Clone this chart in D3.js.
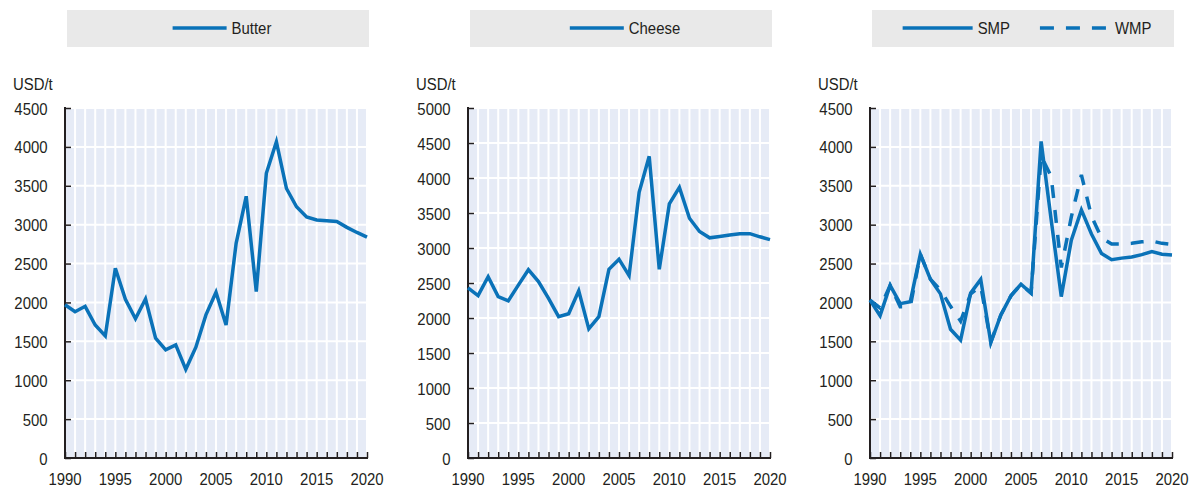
<!DOCTYPE html>
<html>
<head>
<meta charset="utf-8">
<script src="https://cdn.jsdelivr.net/npm/d3@7/dist/d3.min.js"></script>
<style>
  html, body { margin: 0; padding: 0; background: #ffffff; }
  svg { display: block; font-family: "Liberation Sans", Arial, Helvetica, sans-serif; }
</style>
</head>
<body>
<svg id="chart" width="1189" height="488"></svg>
<script>
// Years on the x axis
const years = [1990, 1991, 1992, 1993, 1994, 1995, 1996, 1997, 1998, 1999,
               2000, 2001, 2002, 2003, 2004, 2005, 2006, 2007, 2008, 2009,
               2010, 2011, 2012, 2013, 2014, 2015, 2016, 2017, 2018, 2019, 2020];
const yearTicks = [1990, 1995, 2000, 2005, 2010, 2015, 2020];

// Prices, USD/t
const butter = [1970, 1880, 1950, 1710, 1570, 2440, 2040, 1790, 2045, 1540,
                1390, 1455, 1140, 1425, 1840, 2130, 1710, 2760, 3365, 2140,
                3660, 4065, 3465, 3230, 3100, 3060, 3050, 3040, 2965, 2900, 2840];
const cheese = [2430, 2320, 2590, 2305, 2245, 2470, 2690, 2520, 2280, 2020,
                2060, 2390, 1845, 2020, 2695, 2840, 2605, 3795, 4310, 2695,
                3630, 3865, 3425, 3235, 3145, 3165, 3185, 3205, 3205, 3160, 3120];
const smp = [2030, 1830, 2220, 1985, 2010, 2620, 2300, 2110, 1655, 1515,
             2120, 2295, 1485, 1840, 2085, 2235, 2120, 4070, 3060, 2075,
             2800, 3190, 2880, 2630, 2550, 2570, 2585, 2615, 2655, 2620, 2610];
const wmp = [2030, 1930, 2220, 1945, 1945, 2620, 2300, 2160, 1950, 1760,
             2110, 2210, 1490, 1840, 2085, 2235, 2120, 3880, 3620, 2450,
             3100, 3640, 3110, 2830, 2750, 2750, 2760, 2780, 2790, 2760, 2745];

// Y tick values per panel
const ticks4500 = [0, 500, 1000, 1500, 2000, 2500, 3000, 3500, 4000, 4500];
const ticks5000 = [0, 500, 1000, 1500, 2000, 2500, 3000, 3500, 4000, 4500, 5000];

const unitLabel = "USD/t";

const panels = [
  { left: 65,  yMax: 4500, yTicks: ticks4500,
    series: [{ name: "Butter", values: butter, dashed: false, legendLen: 54 }] },
  { left: 468, yMax: 5000, yTicks: ticks5000,
    series: [{ name: "Cheese", values: cheese, dashed: false, legendLen: 54 }] },
  { left: 870, yMax: 4500, yTicks: ticks4500,
    series: [{ name: "SMP", values: smp, dashed: false, legendLen: 70 },
             { name: "WMP", values: wmp, dashed: true,  legendLen: 70 }] }
];

const plotW = 302, plotTop = 108, plotBottom = 458;
const blue = "#0a72b8";
const ink = "#231f20";
const dash = "13,12";
const fontSize = 16.3, squeeze = 0.915;   // narrow sans look

const svg = d3.select("#chart");

// Text drawn with a horizontal squeeze; returns the selection
function label(parent, x, y, str, anchor) {
  return parent.append("text")
    .attr("transform", `translate(${x},${y}) scale(${squeeze},1)`)
    .attr("text-anchor", anchor || "start")
    .attr("font-size", fontSize)
    .attr("fill", ink)
    .text(str);
}

panels.forEach(p => {
  const g = svg.append("g");
  const x = d3.scaleLinear().domain([1990, 2020]).range([p.left, p.left + plotW]);
  const y = d3.scaleLinear().domain([0, p.yMax]).range([plotBottom, plotTop]);

  // Legend box
  const lg = g.append("g");
  lg.append("rect")
    .attr("x", p.left + 2).attr("y", 10)
    .attr("width", plotW).attr("height", 37)
    .attr("fill", "#e9e9e9");
  const items = lg.append("g");
  let cx = 0;
  p.series.forEach((s, i) => {
    if (i > 0) cx += 30;
    items.append("line")
      .attr("x1", cx).attr("x2", cx + s.legendLen)
      .attr("y1", 28).attr("y2", 28)
      .attr("stroke", blue).attr("stroke-width", 3.5)
      .attr("stroke-dasharray", s.dashed ? "14,12" : null);
    cx += s.legendLen + 5;
    const t = label(items, cx, 34, s.name);
    cx += t.node().getComputedTextLength() * squeeze;
  });
  const boxCenter = p.left + 2 + plotW / 2;
  items.attr("transform", `translate(${boxCenter - cx / 2 + 4},0)`);

  // Plot background
  g.append("rect")
    .attr("x", p.left).attr("y", plotTop)
    .attr("width", plotW).attr("height", plotBottom - plotTop)
    .attr("fill", "#e6ebf6");

  // Grid lines
  g.append("g").selectAll("line").data(years.slice(1))
    .join("line")
    .attr("x1", d => x(d)).attr("x2", d => x(d))
    .attr("y1", plotTop).attr("y2", plotBottom)
    .attr("stroke", "#ffffff").attr("stroke-width", 2);
  g.append("g").selectAll("line").data(p.yTicks.slice(1))
    .join("line")
    .attr("x1", p.left).attr("x2", p.left + plotW)
    .attr("y1", d => y(d)).attr("y2", d => y(d))
    .attr("stroke", "#ffffff").attr("stroke-width", 2);

  // Y axis: ticks pointing inward
  const yAxis = d3.axisRight(y).tickValues(p.yTicks).tickSize(6).tickFormat("");
  const ya = g.append("g").attr("transform", `translate(${p.left},0)`).call(yAxis);
  ya.select(".domain").remove();
  ya.selectAll(".tick line").attr("stroke", ink).attr("stroke-width", 1.5);
  g.append("line")
    .attr("x1", p.left).attr("x2", p.left)
    .attr("y1", plotTop - 1).attr("y2", plotBottom + 1)
    .attr("stroke", ink).attr("stroke-width", 2);

  // Y tick labels
  const yl = g.append("g");
  p.yTicks.forEach(d => label(yl, p.left - 17.5, y(d) + 6.5, d, "end"));

  // Unit label
  label(g, p.left - 52, 90, unitLabel);

  // X axis: yearly ticks pointing up, labels every five years
  const xAxis = d3.axisTop(x).tickValues(years).tickSize(6).tickFormat("");
  const xa = g.append("g").attr("transform", `translate(0,${plotBottom})`).call(xAxis);
  xa.select(".domain").remove();
  xa.selectAll(".tick line").attr("stroke", ink).attr("stroke-width", 1.5);
  g.append("line")
    .attr("x1", p.left - 1).attr("x2", p.left + plotW + 1)
    .attr("y1", plotBottom).attr("y2", plotBottom)
    .attr("stroke", ink).attr("stroke-width", 2);
  const xl = g.append("g");
  yearTicks.forEach(d => label(xl, x(d), 485, d, "middle"));

  // Series lines
  const line = d3.line().x((d, i) => x(years[i])).y(d => y(d));
  p.series.slice().reverse().forEach(s => {
    g.append("path")
      .datum(s.values)
      .attr("d", line)
      .attr("fill", "none")
      .attr("stroke", blue)
      .attr("stroke-width", 3.5)
      .attr("stroke-linejoin", "miter")
      .attr("stroke-dasharray", s.dashed ? dash : null);
  });
});
</script>
</body>
</html>
